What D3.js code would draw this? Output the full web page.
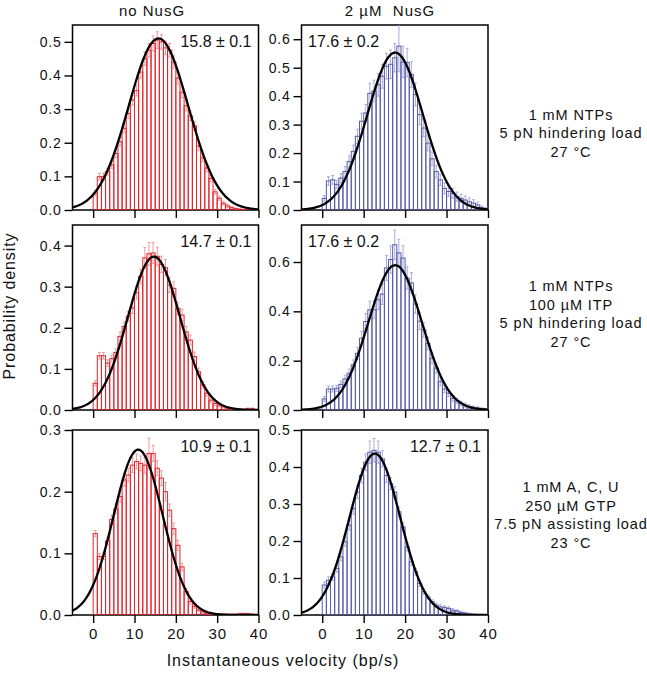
<!DOCTYPE html>
<html><head><meta charset="utf-8">
<script src="https://cdn.jsdelivr.net/npm/d3@7"></script>
<style>body{margin:0;background:#fff}</style>
</head><body>
<svg id="chart" width="647" height="674" xmlns="http://www.w3.org/2000/svg"></svg>
<script>
// ---------------- DATA ----------------
const velocityBins = [0,1,2,3,4,5,6,7,8,9,10,11,12,13,14,15,16,17,18,19,20,21,22,23,24,25,26,27,28,29,30,31,32,33,34,35,36,37,38,39];
const binWidth = 1;
const columnTitles = ["no NusG", "2 \u00b5M  NusG"];
const conditionLabels = [
  ["1 mM NTPs", "5 pN hindering load", "27 \u00b0C"],
  ["1 mM NTPs", "100 \u00b5M ITP", "5 pN hindering load", "27 \u00b0C"],
  ["1 mM A, C, U", "250 \u00b5M GTP", "7.5 pN assisting load", "23 \u00b0C"]
];
const xTickValues = [0, 10, 20, 30, 40];
const xDomain = [-5, 40];

// Row 1: 1 mM NTPs, 5 pN hindering
const noNusG_NTP = [0.050,0.099,0.100,0.114,0.134,0.168,0.203,0.243,0.287,0.327,0.355,0.410,0.450,0.475,0.495,0.505,0.500,0.482,0.475,0.440,0.392,0.350,0.310,0.280,0.250,0.190,0.155,0.125,0.094,0.054,0.035,0.020,0.012,0.007,0.004,0.002,0.001,0.001,0,0];
const noNusG_NTP_err = [0.008,0.010,0.010,0.010,0.010,0.012,0.012,0.013,0.014,0.015,0.016,0.018,0.020,0.020,0.022,0.025,0.022,0.020,0.020,0.018,0.017,0.016,0.015,0.014,0.013,0.012,0.011,0.010,0.009,0.007,0.006,0.005,0.004,0.003,0.002,0.002,0.001,0.001,0,0];
const nusG_NTP = [0.041,0.102,0.106,0.090,0.112,0.135,0.170,0.206,0.259,0.312,0.341,0.410,0.418,0.440,0.470,0.505,0.512,0.535,0.576,0.520,0.518,0.476,0.406,0.335,0.288,0.235,0.180,0.135,0.106,0.076,0.065,0.059,0.047,0.041,0.035,0.029,0.024,0.018,0.008,0.004];
const nusG_NTP_err = [0.010,0.015,0.015,0.014,0.016,0.018,0.020,0.022,0.025,0.028,0.030,0.035,0.038,0.040,0.042,0.045,0.050,0.050,0.090,0.055,0.050,0.045,0.040,0.035,0.030,0.027,0.024,0.022,0.020,0.019,0.018,0.017,0.016,0.015,0.014,0.013,0.012,0.010,0.006,0.004];
// Row 2: + 100 uM ITP
const noNusG_ITP = [0.065,0.132,0.132,0.114,0.125,0.140,0.179,0.203,0.228,0.248,0.285,0.325,0.370,0.380,0.382,0.374,0.354,0.346,0.304,0.296,0.247,0.231,0.190,0.170,0.130,0.093,0.061,0.041,0.024,0.016,0.012,0.008,0.005,0.003,0.002,0.001,0.001,0.003,0.003,0];
const noNusG_ITP_err = [0.006,0.008,0.008,0.008,0.008,0.009,0.010,0.011,0.012,0.013,0.015,0.018,0.025,0.028,0.025,0.022,0.020,0.020,0.018,0.016,0.015,0.014,0.013,0.012,0.011,0.009,0.008,0.007,0.006,0.005,0.004,0.003,0.002,0.002,0.001,0.001,0.001,0.002,0.002,0];
const nusG_ITP = [0.045,0.085,0.085,0.088,0.104,0.126,0.149,0.183,0.230,0.291,0.359,0.406,0.406,0.447,0.470,0.576,0.610,0.670,0.637,0.616,0.535,0.515,0.430,0.360,0.325,0.270,0.210,0.170,0.115,0.085,0.068,0.047,0.037,0.027,0.020,0.014,0.010,0.008,0.005,0.003];
const nusG_ITP_err = [0.010,0.012,0.012,0.012,0.013,0.015,0.017,0.020,0.024,0.028,0.032,0.035,0.036,0.040,0.042,0.050,0.055,0.060,0.055,0.050,0.045,0.042,0.038,0.034,0.030,0.026,0.022,0.020,0.017,0.015,0.013,0.011,0.010,0.009,0.008,0.007,0.006,0.005,0.004,0.003];
// Row 3: 250 uM GTP, 7.5 pN assisting
const noNusG_GTP = [0.132,0.095,0.095,0.120,0.155,0.172,0.192,0.219,0.227,0.243,0.249,0.246,0.243,0.262,0.262,0.238,0.222,0.200,0.170,0.140,0.113,0.078,0.038,0.022,0.014,0.008,0.005,0.003,0.002,0.001,0.001,0.001,0.001,0.001,0.001,0.002,0.002,0.002,0.001,0];
const noNusG_GTP_err = [0.005,0.005,0.005,0.006,0.007,0.008,0.009,0.010,0.011,0.012,0.012,0.012,0.013,0.025,0.013,0.012,0.012,0.015,0.010,0.009,0.008,0.006,0.005,0.004,0.003,0.002,0.002,0.001,0.001,0.001,0.001,0.001,0.001,0.001,0.001,0.001,0.001,0.001,0.001,0];
const nusG_GTP = [0.081,0.094,0.103,0.126,0.157,0.198,0.243,0.288,0.332,0.377,0.413,0.440,0.445,0.440,0.422,0.377,0.355,0.332,0.279,0.238,0.184,0.144,0.117,0.085,0.063,0.049,0.036,0.027,0.022,0.020,0.018,0.013,0.011,0.007,0.005,0.003,0.002,0.001,0.001,0];
const nusG_GTP_err = [0.008,0.009,0.009,0.010,0.011,0.012,0.013,0.015,0.017,0.020,0.022,0.030,0.032,0.030,0.022,0.018,0.016,0.015,0.013,0.012,0.011,0.010,0.009,0.008,0.007,0.006,0.005,0.005,0.005,0.005,0.004,0.004,0.003,0.003,0.002,0.002,0.001,0.001,0.001,0];

// Gaussian fits (mean velocity, width, peak height) and their labels
const fitMean  = [15.8, 17.6, 14.7, 17.6, 10.9, 12.7];
const fitSigma = [7.2, 6.7, 6.3, 6.45, 5.9, 6.1];
const fitPeak  = [0.51, 0.553, 0.373, 0.587, 0.268, 0.436];
const fitLabels = ["15.8 \u00b1 0.1", "17.6 \u00b1 0.2", "14.7 \u00b1 0.1", "17.6 \u00b1 0.2", "10.9 \u00b1 0.1", "12.7 \u00b1 0.1"];

const yMaxes = [0.55, 0.65, 0.45, 0.75, 0.30, 0.50];
const yTicks = [
  [0,0.1,0.2,0.3,0.4,0.5],
  [0,0.1,0.2,0.3,0.4,0.5,0.6],
  [0,0.1,0.2,0.3,0.4],
  [0,0.2,0.4,0.6],
  [0,0.1,0.2,0.3],
  [0,0.1,0.2,0.3,0.4,0.5]
];

const panelValues = [noNusG_NTP, nusG_NTP, noNusG_ITP, nusG_ITP, noNusG_GTP, nusG_GTP];
const panelErrors = [noNusG_NTP_err, nusG_NTP_err, noNusG_ITP_err, nusG_ITP_err, noNusG_GTP_err, nusG_GTP_err];

// ---------------- LAYOUT / STYLE ----------------
const FONT = "'Liberation Sans', Arial, Helvetica, sans-serif";
const colRange = [[72.5, 258.5], [301.5, 488]];
const rowRange = [[210, 25], [410, 225], [615, 430]];
const titleCenters = [152, 390];
const annotationCenters = [133, 314, 515];
const barColor = ["#e3242b", "#585ca8"];
const errColor = ["#f19a9c", "#a9acd8"];

const svg = d3.select("#chart");
const defs = svg.append("defs");

panelValues.forEach((vals, k) => {
  const col = k % 2, row = Math.floor(k / 2);
  const x = d3.scaleLinear().domain(xDomain).range(colRange[col]);
  const y = d3.scaleLinear().domain([0, yMaxes[k]]).range(rowRange[row]);
  const x0 = colRange[col][0], x1 = colRange[col][1];
  const yB = rowRange[row][0], yT = rowRange[row][1];

  defs.append("clipPath").attr("id", "clip" + k)
    .append("rect").attr("x", x0).attr("y", yT).attr("width", x1 - x0).attr("height", yB - yT);

  const g = svg.append("g");

  // axes
  const yAxis = d3.axisLeft(y).tickValues(yTicks[k]).tickFormat(d3.format(".1f")).tickSize(8).tickPadding(3);
  const ya = g.append("g").attr("transform", `translate(${x0},0)`).call(yAxis);
  ya.select(".domain").remove();
  ya.selectAll("line").attr("stroke", "#000").attr("stroke-width", 1.4);
  ya.selectAll("text").attr("font-family", FONT).attr("font-size", 14).attr("letter-spacing", 0.8).attr("fill", "#111");

  const xAxis = d3.axisBottom(x).tickValues(xTickValues).tickSize(8).tickPadding(5)
    .tickFormat(row === 2 ? d3.format("d") : () => "");
  const xa = g.append("g").attr("transform", `translate(0,${yB})`).call(xAxis);
  xa.select(".domain").remove();
  xa.selectAll("line").attr("stroke", "#000").attr("stroke-width", 1.4);
  xa.selectAll("text").attr("font-family", FONT).attr("font-size", 15).attr("letter-spacing", 0.8).attr("fill", "#111");

  // frame
  g.append("rect").attr("x", x0).attr("y", yT).attr("width", x1 - x0).attr("height", yB - yT)
    .attr("fill", "none").attr("stroke", "#000").attr("stroke-width", 1.5);

  const data = velocityBins.map((b, i) => ({ b, v: vals[i], e: panelErrors[k][i] })).filter(d => d.v > 0);
  const plot = g.append("g").attr("clip-path", `url(#clip${k})`);

  // error bars
  const eb = plot.append("g").attr("stroke", errColor[col]).attr("stroke-width", 1).attr("fill", "none");
  data.forEach(d => {
    const cx = x(d.b + binWidth / 2);
    const half = (x(binWidth) - x(0)) * 0.35;
    const yt = y(d.v + d.e), yb = y(Math.max(0, d.v - d.e));
    eb.append("line").attr("x1", cx).attr("x2", cx).attr("y1", yt).attr("y2", yb);
    eb.append("line").attr("x1", cx - half).attr("x2", cx + half).attr("y1", yt).attr("y2", yt);
    eb.append("line").attr("x1", cx - half).attr("x2", cx + half).attr("y1", yb).attr("y2", yb);
  });

  // bars (hollow)
  plot.append("g").selectAll("rect").data(data).join("rect")
    .attr("x", d => x(d.b)).attr("width", d => x(d.b + binWidth) - x(d.b))
    .attr("y", d => y(d.v)).attr("height", d => yB - y(d.v))
    .attr("fill", "none").attr("stroke", barColor[col]).attr("stroke-width", 1);

  // gaussian fit curve
  const xs = d3.range(xDomain[0], xDomain[1] + 0.01, 0.2);
  const line = d3.line().x(v => x(v)).y(v => y(fitPeak[k] * Math.exp(-((v - fitMean[k]) ** 2) / (2 * fitSigma[k] ** 2))));
  plot.append("path").datum(xs).attr("d", line).attr("fill", "none").attr("stroke", "#000").attr("stroke-width", 2.3);

  // fit label
  const rightAligned = (k !== 1 && k !== 3);
  g.append("text")
    .attr("x", rightAligned ? x1 - 7 : x0 + 6.5)
    .attr("y", yT + 22)
    .attr("text-anchor", rightAligned ? "end" : "start")
    .attr("font-family", FONT).attr("font-size", 16).attr("fill", "#111")
    .text(fitLabels[k]);
});

// column titles
columnTitles.forEach((t, c) => {
  svg.append("text").attr("x", titleCenters[c]).attr("y", 16)
    .attr("text-anchor", "middle").attr("font-family", FONT).attr("font-size", 15)
    .attr("letter-spacing", 1.0).style("white-space", "pre").attr("fill", "#111").text(t);
});

// condition annotations
conditionLabels.forEach((lines, r) => {
  const cy = annotationCenters[r];
  const lh = 18.5;
  const start = cy - (lines.length - 1) * lh / 2;
  lines.forEach((t, i) => {
    svg.append("text").attr("x", 571).attr("y", start + i * lh + 5)
      .attr("text-anchor", "middle").attr("font-family", FONT).attr("font-size", 14.5)
      .attr("letter-spacing", 0.9).attr("fill", "#111").text(t);
  });
});

// axis titles
svg.append("text").attr("x", 283).attr("y", 666).attr("text-anchor", "middle")
  .attr("font-family", FONT).attr("font-size", 16).attr("letter-spacing", 1.0).attr("fill", "#111")
  .text("Instantaneous velocity (bp/s)");
svg.append("text").attr("transform", "translate(15,306) rotate(-90)").attr("text-anchor", "middle")
  .attr("font-family", FONT).attr("font-size", 16).attr("letter-spacing", 0.9).attr("fill", "#111")
  .text("Probability density");
</script>
</body></html>
